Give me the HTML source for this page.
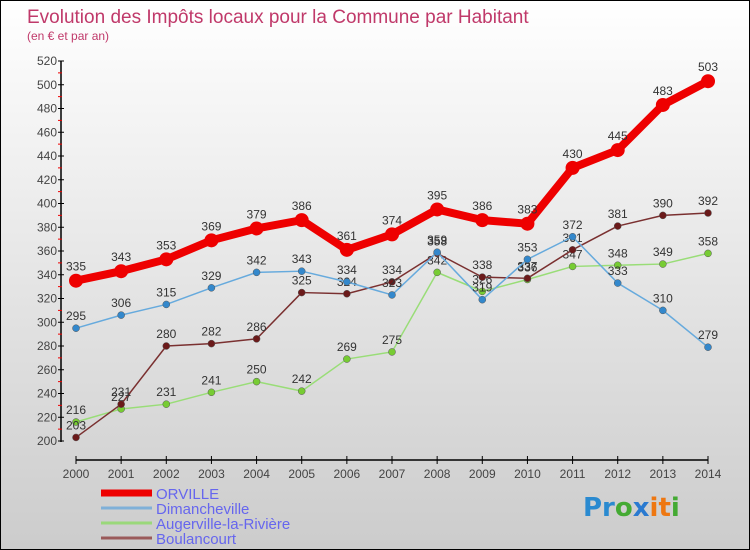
<!DOCTYPE html>
<html><head><meta charset="utf-8"><style>
body{margin:0;}
#c{width:750px;height:550px;position:relative;box-sizing:border-box;border:1px solid #000;background:linear-gradient(#fff,#ccc);font-family:"Liberation Sans",sans-serif;overflow:hidden}
svg{position:absolute;left:0;top:0}
</style></head><body>
<div id="c">
<svg id="s" width="750" height="550">
<text x="26" y="22" font-size="19" fill="#c0396a">Evolution des Impôts locaux pour la Commune par Habitant</text>
<text x="26" y="39" font-size="12" fill="#c0396a">(en € et par an)</text>
</svg>
</div>
<script>
const years=[2000,2001,2002,2003,2004,2005,2006,2007,2008,2009,2010,2011,2012,2013,2014];
const orville=[335,343,353,369,379,386,361,374,395,386,383,430,445,483,503];
const dimancheville=[295,306,315,329,342,343,334,323,359,319,353,372,333,310,279];
const augerville=[216,227,231,241,250,242,269,275,342,326,336,347,348,349,358];
const boulancourt=[203,231,280,282,286,325,324,334,358,338,337,361,381,390,392];
const yTicks=[200,220,240,260,280,300,320,340,360,380,400,420,440,460,480,500,520];
const seriesNames=["ORVILLE","Dimancheville","Augerville-la-Rivière","Boulancourt"];
const NS="http://www.w3.org/2000/svg";
const s=document.getElementById('s');
const X=i=>75+i*(707-75)/(years.length-1);
const Y=v=>440-(v-200)*380/320;
function el(t,a,p){const e=document.createElementNS(NS,t);for(const k in a)e.setAttribute(k,a[k]);(p||s).appendChild(e);return e;}
// axes
let ax=el('line',{x1:60,y1:60,x2:60,y2:441,stroke:'#000','stroke-width':1.5});


let bx=el('line',{x1:75,y1:459,x2:707,y2:459,stroke:'#000','stroke-width':1.5});


yTicks.forEach((v,i)=>{
 const y=Y(v);
 el('line',{x1:57,y1:y,x2:63,y2:y,stroke:'#000'});
 if(i<yTicks.length-1) el('line',{x1:57,y1:Y(v+10),x2:61,y2:Y(v+10),stroke:'#e00'});
 const t=el('text',{x:56,y:y+4,'font-size':12,fill:'#444','text-anchor':'end'});
 t.textContent=v;
 
 
});
years.forEach((yr,i)=>{
 el('line',{x1:X(i),y1:455,x2:X(i),y2:463,stroke:'#000'});
 const t=el('text',{x:X(i),y:477,'font-size':12,fill:'#444','text-anchor':'middle'});
 t.textContent=yr;
 
 
});
function series(data,color,dot,w,r,name){
 const g=el('g',{});
 
 
 el('polyline',{points:data.map((v,i)=>X(i)+','+Y(v)).join(' '),fill:'none',stroke:color,'stroke-width':w,'stroke-linejoin':'round'},g);
 data.forEach((v,i)=>{
  const c=el('circle',{cx:X(i),cy:Y(v),r:r,fill:dot,stroke:r>5?'none':'#555','stroke-width':0.5},g);
  
  
  const t=el('text',{x:X(i),y:Y(v)-(r>5?10:8),'font-size':12,fill:'#333','text-anchor':'middle'},g);
  t.textContent=v;
  
  
 });
}
series(augerville,'#99dd77','#77cc33',1.5,3.5,'series-augerville');
series(boulancourt,'#7a3030','#6b1a1a',1.5,3.5,'series-boulancourt');
series(dimancheville,'#66aadd','#3388cc',1.5,3.5,'series-dimancheville');
series(orville,'#ee0000','#ee0000',8,7,'series-orville');
const lc=[['#ee0000',7],['#7fb0d8',3],['#9ad87a',3],['#9a5a5a',3]];
seriesNames.forEach((n,i)=>{
 const y=492+i*15;
 const g=el('g',{});
 
 
 el('line',{x1:100,y1:y,x2:151,y2:y,stroke:lc[i][0],'stroke-width':lc[i][1]},g);
 const t=el('text',{x:155,y:y+6,'font-size':15,fill:'#6666ee'},g);
 t.textContent=n;
});
const logo=el('text',{x:582,y:515,'font-size':26,'font-weight':'bold','font-family':'"DejaVu Sans",sans-serif'});


[['Pr','#2a8ad0'],['o','#44aa33'],['x','#2a7ad0'],['i','#ee7711'],['t','#ee7711'],['i','#44aa33']].forEach(([c,f])=>{el('tspan',{fill:f},logo).textContent=c;});
</script>
</body></html>
